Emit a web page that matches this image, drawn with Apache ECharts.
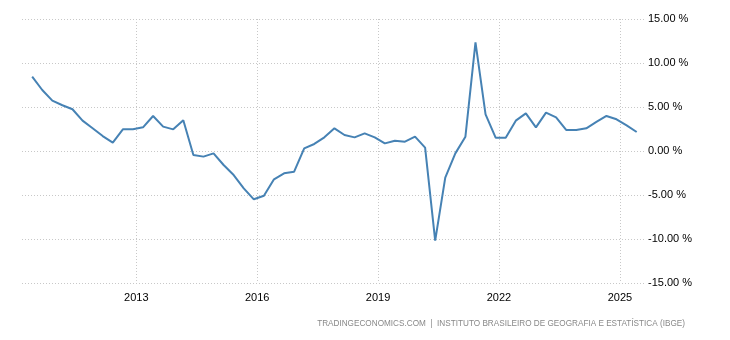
<!DOCTYPE html>
<html><head><meta charset="utf-8">
<script src="https://cdn.jsdelivr.net/npm/echarts@6/dist/echarts.min.js"></script>
<style>html,body{margin:0;padding:0;background:#fff}#c{width:730px;height:340px}</style>
</head><body><div id="c"></div>
<script>
// Brazil GDP annual growth rate (YoY, %), quarterly, first point 2010 Q2
const startYear = 2010;
const startQuarter = 2;
const gdpGrowth = [
  8.44, 6.93, 5.72, 5.20, 4.74, 3.45, 2.58, 1.70, 0.95, 2.46,
  2.46, 2.69, 3.98, 2.77, 2.46, 3.50, -0.45, -0.64, -0.27, -1.59,
  -2.73, -4.24, -5.49, -5.08, -3.22, -2.54, -2.35, 0.30, 0.80, 1.55,
  2.58, 1.82, 1.55, 2.01, 1.55, 0.87, 1.17, 1.06, 1.63, 0.38,
  -10.19, -3.03, -0.27, 1.63, 12.35, 4.17, 1.51, 1.51, 3.45, 4.28,
  2.69, 4.36, 3.83, 2.39, 2.39, 2.58, 3.30, 3.98, 3.60, 2.92,
  2.16
];
const xTickYears = [2013, 2016, 2019, 2022, 2025];
const yMin = -15, yMax = 15, yStep = 5;
const sourceText = 'TRADINGECONOMICS.COM  |  INSTITUTO BRASILEIRO DE GEOGRAFIA E ESTATÍSTICA (IBGE)';

// quarter dates (last month of each quarter) -> decimal year
const points = gdpGrowth.map((v, i) => {
  const q = startQuarter - 1 + i;
  const year = startYear + Math.floor(q / 4);
  const month = (q % 4) * 3 + 3;
  return [year + (month - 1) / 12, v];
});

const chart = echarts.init(document.getElementById('c'), null, {renderer: 'canvas'});
const font = 'Liberation Sans, Arial, sans-serif';
chart.setOption({
  animation: false,
  backgroundColor: '#ffffff',
  grid: {left: 22, right: 85, top: 19, bottom: 57, containLabel: false},
  xAxis: {
    type: 'value',
    min: 2010.164,
    max: 2025.623,
    axisLine: {show: false},
    axisTick: {show: false, customValues: xTickYears},
    axisLabel: {
      customValues: xTickYears,
      formatter: v => String(Math.round(v)),
      color: '#000', fontSize: 11, fontFamily: font, margin: 9
    },
    splitLine: {show: true, lineStyle: {color: '#c8c8c8', type: [1, 2], width: 1}}
  },
  yAxis: {
    type: 'value',
    position: 'right',
    min: yMin, max: yMax, interval: yStep,
    axisLine: {show: false},
    axisTick: {show: false},
    axisLabel: {
      formatter: v => v.toFixed(2) + ' %',
      color: '#000', fontSize: 11, fontFamily: font, margin: 3
    },
    splitLine: {show: true, lineStyle: {color: '#c8c8c8', type: [1, 2], width: 1}}
  },
  series: [{
    type: 'line',
    data: points,
    showSymbol: false,
    lineStyle: {color: '#4682b4', width: 2},
    itemStyle: {color: '#4682b4'}
  }],
  graphic: [{
    type: 'text',
    right: 45,
    top: 320,
    style: {text: sourceText, fill: '#888', font: '8.2px ' + font}
  }]
});
</script></body></html>
